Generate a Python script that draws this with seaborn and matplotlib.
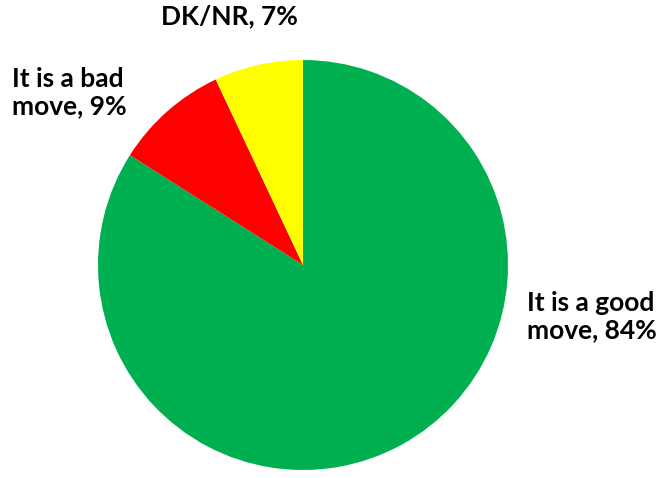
import matplotlib.pyplot as plt
import seaborn as sns

labels = ['It is a good\nmove, 84%', 'It is a bad\nmove, 9%', 'DK/NR, 7%']
shares = [84, 9, 7]
colors = ['#00B050', '#FF0000', '#FFFF00']

sns.set_theme(style='white')
plt.rcParams['font.family'] = ['Lato', 'DejaVu Sans']

fig = plt.figure(figsize=(6.59, 4.78), dpi=100)
ax = fig.add_axes([98 / 659, 8 / 478, 410 / 659, 410 / 478])

# pie starts at the top and runs clockwise
ax.pie(shares, colors=colors, startangle=90, counterclock=False,
       wedgeprops=dict(linewidth=0))
ax.set_xlim(-1, 1)
ax.set_ylim(-1, 1)
ax.set_aspect('auto')
ax.axis('off')

# label positions in pie units
label_pos = [(1.095, -0.25, 'left'), (-1.42, 0.84, 'left'), (-0.36, 1.215, 'center')]
for text, (x, y, ha) in zip(labels, label_pos):
    ax.text(x, y, text, ha=ha, va='center', fontsize=19, fontweight='bold',
            color='black', linespacing=1.15, clip_on=False)

fig.savefig('out.png', dpi=100)
